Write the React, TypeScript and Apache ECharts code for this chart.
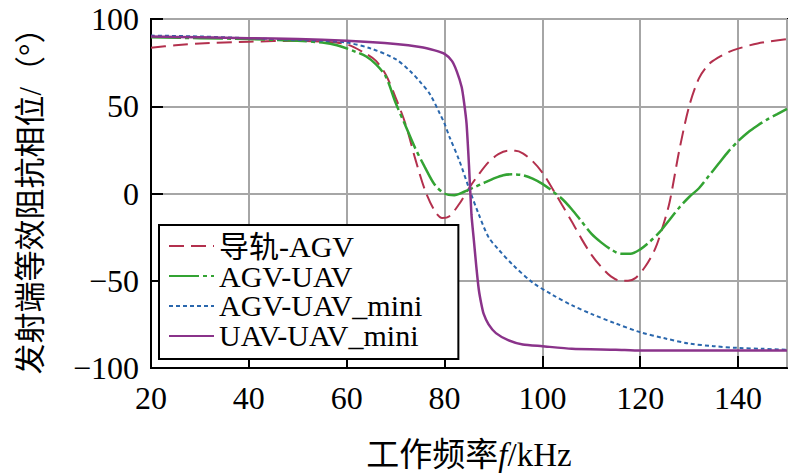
import React, { useEffect, useRef } from "react";
import * as echarts from "echarts";

const seriesNames = ["导轨-AGV", "AGV-UAV", "AGV-UAV_mini", "UAV-UAV_mini"];

const railFreq = [20, 25, 30, 40, 50, 55, 60, 64, 66, 68, 70, 72, 74, 76, 78, 79.5, 81, 83, 85, 87, 89, 91, 93, 94.5, 96, 98, 100, 102, 104, 106, 108, 110, 112, 114, 116, 117.5, 119, 121, 123, 124.5, 126, 128, 130, 132, 134, 136, 138, 140, 144, 150];
const railPhase = [83.5, 85, 86, 87, 87.5, 87, 85.5, 80, 76, 68, 55, 40, 20, 2, -10, -14, -13, -6, 3, 11, 18, 22.5, 24.5, 24.5, 23, 18.5, 12, 3, -6.5, -16, -26, -35, -42, -47.5, -50, -50, -48.5, -42, -32, -20, -5, 25, 50, 66, 74, 78, 81, 83, 86, 88.5];

const agvUavFreq = [20, 30, 40, 50, 55, 58, 62, 64, 66, 68, 70, 72, 74, 76, 78, 80, 82, 84, 86, 88, 90, 92, 94, 96, 98, 100, 102, 104, 106, 108, 110, 112, 114, 116, 118, 120, 122, 124, 126, 128, 130, 132, 134, 136, 138, 140, 142, 144, 146, 148, 150];
const agvUavPhase = [89.5, 89, 88.5, 87.5, 86.5, 85, 81, 78.5, 74, 67, 52, 39, 26, 15, 5, 0, -1, 1, 3.5, 6, 8.5, 10.5, 11, 10.5, 8.5, 5.5, 1.5, -3, -9, -16, -23, -28, -32, -34.5, -34.5, -32, -27.5, -22, -15, -8, -2, 3, 10, 17, 24, 30, 35, 39, 42.5, 45.5, 48.5];

const agvMiniFreq = [20, 30, 40, 50, 55, 60, 65, 70, 73, 75, 77, 79, 80, 81, 83, 85, 87, 89, 91, 94, 98, 102, 106, 110, 115, 120, 125, 130, 135, 140, 145, 150];
const agvMiniPhase = [90.5, 90, 89, 88, 87.5, 86.5, 83, 77, 70, 64, 57, 46, 40, 32.5, 19, 3, -12, -25, -32, -41, -51, -58, -64, -69, -74.5, -79.5, -83, -86, -87.5, -88.5, -89, -89.5];

const uavMiniFreq = [20, 30, 40, 50, 60, 70, 75, 78, 80, 81.5, 82.5, 83.5, 84, 84.5, 85, 85.5, 86, 86.5, 87, 87.5, 88, 89, 90.5, 93, 96, 100, 106, 115, 120, 130, 140, 150];
const uavMiniPhase = [90, 89.5, 89, 88.5, 87.5, 85.7, 84, 82, 80, 76, 70, 61, 52, 40, 16, -12, -27, -42, -55, -63, -69, -75, -80, -84, -86.5, -87.5, -89, -89.5, -90, -90, -90, -90];

const xTicks = { min: 20, max: 150, interval: 20 };
const yTicks = { min: -100, max: 100, interval: 50 };

const zip = (xs: number[], ys: number[]) => xs.map((x, i) => [x, ys[i]]);

const SERIF = "Liberation Serif, Noto Sans CJK SC";

export default function App() {
  const ref = useRef<HTMLDivElement>(null);
  useEffect(() => {
    document.body.style.margin = "0";
    const chart = echarts.init(ref.current!, undefined, { renderer: "svg" });
    const mk = (name: string, data: number[][], color: string, type: any, width: number, smooth: number) => ({
      name,
      type: "line",
      data,
      smooth,
      showSymbol: false,
      symbol: "none",
      lineStyle: { color, type, width },
      itemStyle: { color },
    });
    chart.setOption({
      animation: false,
      backgroundColor: "#fff",
      grid: {
        left: 151,
        right: 1,
        top: 16,
        bottom: 108,
        show: true,
        borderColor: "#000",
        borderWidth: 2,
        backgroundColor: "transparent",
      },
      legend: {
        orient: "vertical",
        left: 159,
        top: 225,
        backgroundColor: "#fff",
        borderColor: "#000",
        borderWidth: 2,
        borderRadius: 0,
        padding: [6, 36, 8, 9],
        itemWidth: 45,
        itemHeight: 14,
        itemGap: 0,
        itemStyle: { opacity: 0 },
        textStyle: { fontFamily: SERIF, fontSize: 30, color: "#000", lineHeight: 28 },
        data: seriesNames,
      },
      xAxis: {
        type: "value",
        min: xTicks.min,
        max: xTicks.max,
        interval: xTicks.interval,
        name: "工作频率{i|f}/kHz",
        nameLocation: "middle",
        nameGap: 70,
        nameTextStyle: {
          fontFamily: SERIF,
          fontSize: 33,
          color: "#000",
          rich: { i: { fontStyle: "italic", fontFamily: SERIF, fontSize: 33, color: "#000" } },
        },
        axisLine: { show: true, onZero: false, lineStyle: { color: "#000", width: 2 } },
        axisTick: { show: true, inside: true, length: 12, lineStyle: { color: "#000", width: 2 } },
        axisLabel: { showMaxLabel: false, margin: 14, fontFamily: SERIF, fontSize: 32, color: "#000" },
        splitLine: { show: true, lineStyle: { color: "#a6a6a6", width: 2 } },
      },
      yAxis: {
        type: "value",
        min: yTicks.min,
        max: yTicks.max,
        interval: yTicks.interval,
        name: "发射端等效阻抗相位/（°）",
        nameLocation: "middle",
        nameRotate: 90,
        nameGap: 105,
        nameTextStyle: { fontFamily: SERIF, fontSize: 31, color: "#000" },
        axisLine: { show: true, onZero: false, lineStyle: { color: "#000", width: 2 } },
        axisTick: { show: true, inside: true, length: 12, lineStyle: { color: "#000", width: 2 } },
        axisLabel: {
          margin: 12,
          fontFamily: SERIF,
          fontSize: 32,
          lineHeight: 32,
          padding: [6, 0, 0, 0],
          color: "#000",
          formatter: (v: number) => String(v).replace("-", "\u2212"),
        },
        splitLine: { show: true, lineStyle: { color: "#a6a6a6", width: 2 } },
      },
      series: [
        mk(seriesNames[0], zip(railFreq, railPhase), "#b3304d", [15, 7], 2, 0.3),
        mk(seriesNames[1], zip(agvUavFreq, agvUavPhase), "#33a333", [30, 4, 4, 4], 2.5, 0.3),
        mk(seriesNames[2], zip(agvMiniFreq, agvMiniPhase), "#2a67ad", [4, 3], 2, 0.3),
        mk(seriesNames[3], zip(uavMiniFreq, uavMiniPhase), "#8a338a", "solid", 2.5, 0.2),
      ],
    });
    return () => chart.dispose();
  }, []);
  return <div ref={ref} style={{ width: 788, height: 476 }} />;
}
